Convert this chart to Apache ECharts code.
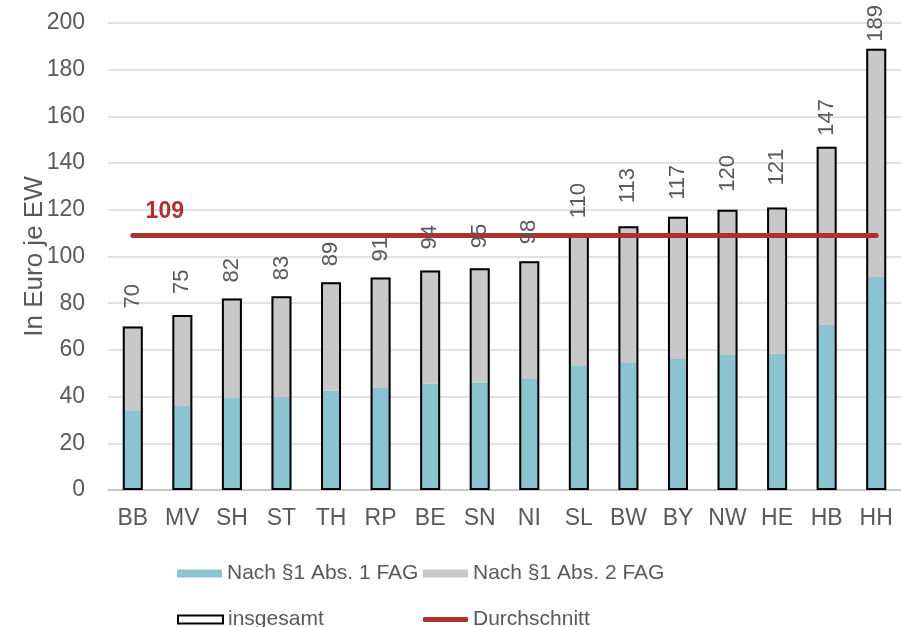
<!DOCTYPE html>
<html>
<head>
<meta charset="utf-8">
<script src="https://cdn.jsdelivr.net/npm/echarts@6/dist/echarts.min.js"></script>
<style>
  html, body { margin: 0; padding: 0; background: #fff; }
  #chart { width: 901px; height: 627px; }
</style>
</head>
<body>
<div id="chart"></div>
<script>
// Länder
const categories = ['BB', 'MV', 'SH', 'ST', 'TH', 'RP', 'BE', 'SN', 'NI', 'SL', 'BW', 'BY', 'NW', 'HE', 'HB', 'HH']
// Nach §1 Abs. 1 FAG (Euro je EW)
const abs1 = [33.8, 36, 39.4, 39.8, 42.5, 44, 45.5, 46, 47.5, 53.1, 54.4, 56.1, 57.8, 58.4, 70.7, 91.2]
// insgesamt
const totals = [70, 75, 82, 83, 89, 91, 94, 95, 98, 110, 113, 117, 120, 121, 147, 189]
// Nach §1 Abs. 2 FAG = insgesamt - Abs. 1
const abs2 = totals.map((t, i) => +(t - abs1[i]).toFixed(1))
// Durchschnitt
const average = 109
const yTicks = [0, 20, 40, 60, 80, 100, 120, 140, 160, 180, 200]

const textColor = '#595959'
const red = '#b03030'
const font = 'Liberation Sans, Arial, sans-serif'

// Abstand der Datenbeschriftungen (Excel hat einige verschoben)
const labelGap = [18, 21, 16, 16, 16, 16, 21, 20, 17, 15, 23, 17, 18, 22, 11, 7]

const chart = echarts.init(document.getElementById('chart'))

const legendBase = {
  orient: 'horizontal',
  itemWidth: 45,
  itemHeight: 8,
  itemGap: 5,
  textStyle: { fontSize: 21, color: textColor, fontFamily: font },
  icon: 'rect',
  padding: 0
}

chart.setOption({
  backgroundColor: '#fff',
  animation: false,
  grid: { left: 108, top: 23, width: 798, bottom: 137 },
  legend: [
    Object.assign({}, legendBase, { data: ['Nach §1 Abs. 1 FAG'], left: 177, top: 563 }),
    Object.assign({}, legendBase, { data: ['Nach §1 Abs. 2 FAG'], left: 423, top: 563 }),
    Object.assign({}, legendBase, {
      data: ['insgesamt'], left: 177, top: 609,
      itemStyle: { color: '#fff', borderColor: '#000', borderWidth: 2 }
    }),
    Object.assign({}, legendBase, {
      data: ['Durchschnitt'], left: 423, top: 609, icon: 'roundRect', itemHeight: 5
    })
  ],
  xAxis: {
    type: 'category',
    data: categories,
    axisTick: { show: false },
    axisLine: { lineStyle: { color: '#bfbfbf', width: 1.5 } },
    axisLabel: { interval: 0, fontSize: 23, color: textColor, fontFamily: font, margin: 17 }
  },
  yAxis: {
    type: 'value',
    min: yTicks[0],
    max: yTicks[yTicks.length - 1],
    interval: 20,
    name: 'In Euro je EW',
    nameLocation: 'middle',
    nameGap: 60,
    nameMoveOverlap: false,
    nameTextStyle: { fontSize: 26, color: textColor, fontFamily: font },
    axisLine: { show: false },
    axisTick: { show: false },
    axisLabel: { fontSize: 23, color: textColor, fontFamily: font, margin: 23 },
    splitLine: { lineStyle: { color: '#d9d9d9', width: 1.5 } }
  },
  series: [
    {
      name: 'Nach §1 Abs. 1 FAG',
      type: 'bar',
      stack: 'total',
      barWidth: 20,
      barGap: '-100%',
      data: abs1,
      itemStyle: { color: '#8bc3d1' },
      z: 2
    },
    {
      name: 'Nach §1 Abs. 2 FAG',
      type: 'bar',
      stack: 'total',
      barWidth: 20,
      barGap: '-100%',
      data: abs2,
      itemStyle: { color: '#c8c8c8' },
      z: 2
    },
    {
      name: 'insgesamt',
      type: 'bar',
      barWidth: 20,
      barGap: '-100%',
      z: 3,
      itemStyle: { color: 'rgba(0,0,0,0)', borderColor: '#000', borderWidth: 2 },
      data: totals
    },
    {
      // nur Beschriftungen
      name: 'insgesamt-label',
      type: 'bar',
      barWidth: 20,
      barGap: '-100%',
      z: 10,
      silent: true,
      itemStyle: { color: 'rgba(0,0,0,0)' },
      data: totals.map((v, i) => ({ value: v, label: { distance: labelGap[i] } })),
      label: {
        show: true,
        position: 'top',
        rotate: 90,
        align: 'left',
        verticalAlign: 'middle',
        fontSize: 22,
        color: textColor,
        fontFamily: font
      }
    },
    {
      name: 'Durchschnitt',
      type: 'line',
      z: 4,
      symbol: 'circle',
      symbolSize: 1,
      color: red,
      lineStyle: { color: red, width: 5, cap: 'round' },
      data: [
        {
          value: [categories[0], average],
          label: {
            show: true,
            position: 'top',
            distance: 12,
            offset: [32, 0],
            formatter: (p) => p.value[1],
            fontSize: 23,
            fontWeight: 'bold',
            color: red,
            fontFamily: font
          }
        },
        { value: [categories[categories.length - 1], average] }
      ]
    }
  ]
})
</script>
</body>
</html>
